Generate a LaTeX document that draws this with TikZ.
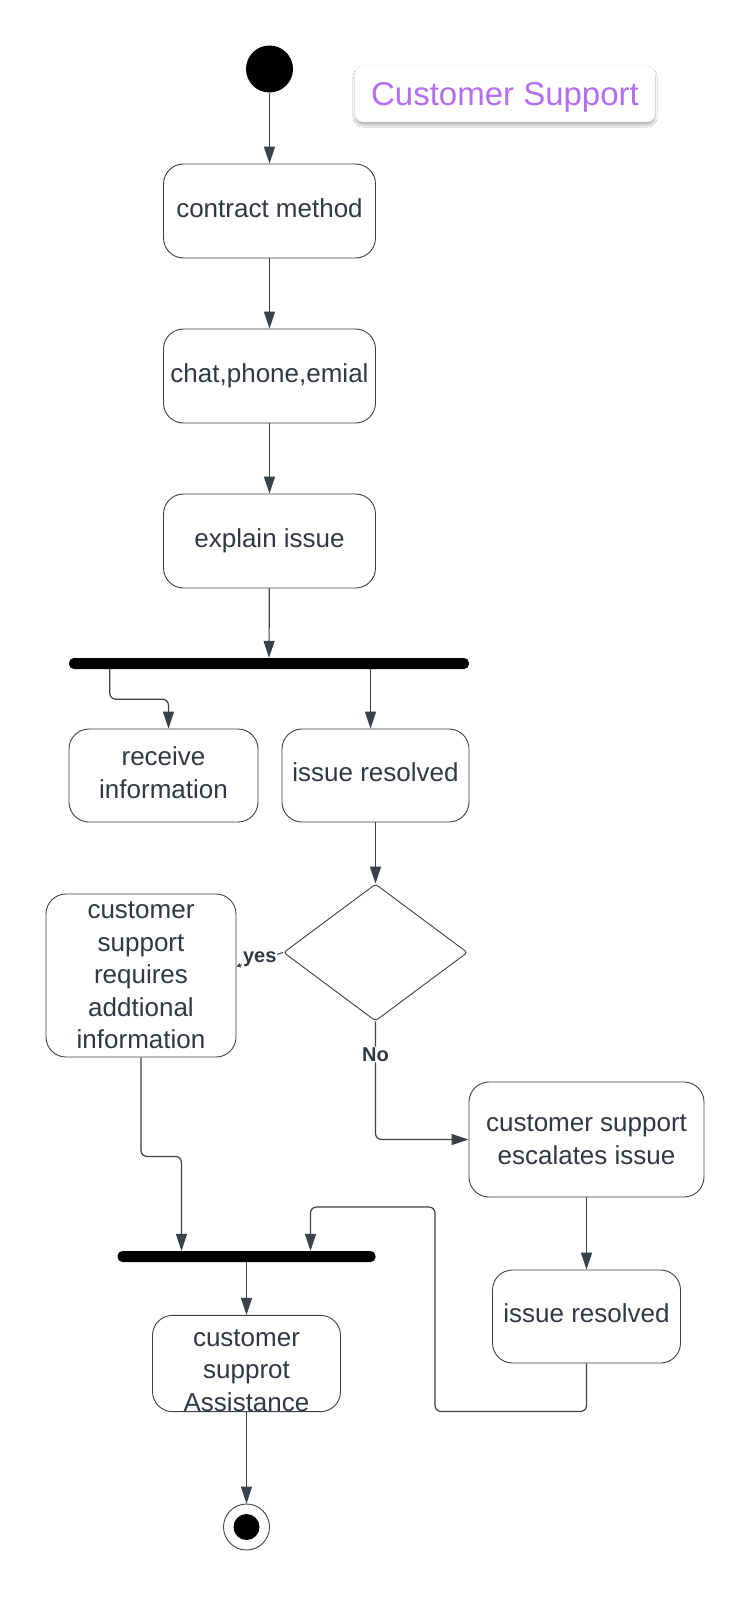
\documentclass[tikz,border=0pt]{standalone}
\usepackage{fontspec}
\setmainfont{Liberation Sans}
\usetikzlibrary{arrows.meta,shapes.geometric,shadows.blur}
\definecolor{ln}{HTML}{3A414A}
\definecolor{tx}{HTML}{313843}
\definecolor{ttl}{HTML}{B46EF2}
\begin{document}
\begin{tikzpicture}[x=1pt,y=-1pt,
  act/.style={draw=ln, line width=0.9pt, rounded corners=20pt, inner sep=0pt, text=tx, align=center, font=\fontsize{26}{32.5}\selectfont},
  one/.style={text depth=6pt},
  bar/.style={fill=black, rounded corners=5pt, inner sep=0pt, minimum height=11pt},
  flow/.style={draw=ln, line width=1.2pt, -{Triangle[length=17pt,width=11pt]}, rounded corners=6pt},
  lbl/.style={font=\bfseries\fontsize{20}{24}\selectfont, text=tx, inner sep=1pt}
]
\fill[white] (0,0) rectangle (752,1600);
\useasboundingbox (0,0) rectangle (752,1600);

\node[circle, fill=black, minimum size=47pt, inner sep=0pt] (start) at (269.5,69) {};
\node[draw=black!10, fill=white, rounded corners=8pt, minimum width=300pt, minimum height=56pt, inner sep=0pt,
  blur shadow={shadow blur steps=10, shadow xshift=0pt, shadow yshift=-3pt, shadow opacity=30},
  text height=29pt, text=ttl, font=\fontsize{33}{40}\selectfont] (title) at (505,94) {Customer Support};

\node[act, one, minimum width=212pt, minimum height=94pt] (c1) at (269.5,211) {contract method};
\node[act, one, minimum width=212pt, minimum height=94pt] (c2) at (269.5,376) {chat,phone,emial};
\node[act, one, minimum width=212pt, minimum height=94pt] (c3) at (269.5,541) {explain issue};
\node[bar, minimum width=400pt] (bar1) at (269,663.5) {};
\node[act, minimum width=189pt, minimum height=93pt] (recv) at (163.5,775.5) {receive\\information\rule[-6pt]{0pt}{0pt}};
\node[act, one, minimum width=187pt, minimum height=93pt] (res1) at (375.5,775.5) {issue resolved};
\node[draw=ln, line width=0.9pt, diamond, minimum width=184pt, minimum height=137pt, inner sep=0pt, rounded corners=3pt] (dec) at (375.5,952.5) {};
\node[act, minimum width=190pt, minimum height=163pt] (req) at (141,975.5) {customer\\support\\requires\\addtional\\information};
\node[act, minimum width=235pt, minimum height=115pt] (esc) at (586.5,1139.5) {customer support\\escalates issue};
\node[act, one, minimum width=188pt, minimum height=93pt] (res2) at (586.5,1316.5) {issue resolved};
\node[bar, minimum width=258pt] (bar2) at (246.5,1256.5) {};
\node[act, minimum width=188pt, minimum height=95pt] (assist) at (246.5,1363.5) {\rule{0pt}{31pt}customer\\supprot\\Assistance};
\node[circle, draw=ln, line width=0.9pt, minimum size=46pt, inner sep=0pt] (end) at (246.5,1527) {};
\node[circle, fill=black, minimum size=26pt, inner sep=0pt] (endin) at (end) {};

\coordinate (r1in) at ([xshift=-5pt]res1.north);
\coordinate (rvin) at ([xshift=5pt]recv.north);

\draw[flow] (start) -- (c1);
\draw[flow] (c1) -- (c2);
\draw[flow] (c2) -- (c3);
\draw[flow] (c3) -- (bar1);
\draw[flow] ([xshift=41pt]bar1.south west) -- ++(0,30) -| (rvin);
\draw[flow] (bar1.south -| r1in) -- (r1in);
\draw[flow] (res1) -- (dec);
\draw[draw=ln, line width=1pt, -{Triangle[length=4pt,width=4pt]}] (dec.west) -- node[lbl, fill=white, midway] {yes} ([yshift=9pt]req.east);
\draw[flow] (dec.south) |- node[lbl, fill=white, pos=0.14] {No} (esc.west);
\draw[flow] (esc) -- (res2);
\draw[flow] (res2.south) -- ++(0,48) -| (435,1207) -| ([xshift=64pt]bar2.north);
\draw[flow] (req.south) -- ++(0,99) -| ([xshift=-65pt]bar2.north);
\draw[flow] (bar2) -- (assist);
\draw[flow] (assist) -- (end);
\end{tikzpicture}
\end{document}
